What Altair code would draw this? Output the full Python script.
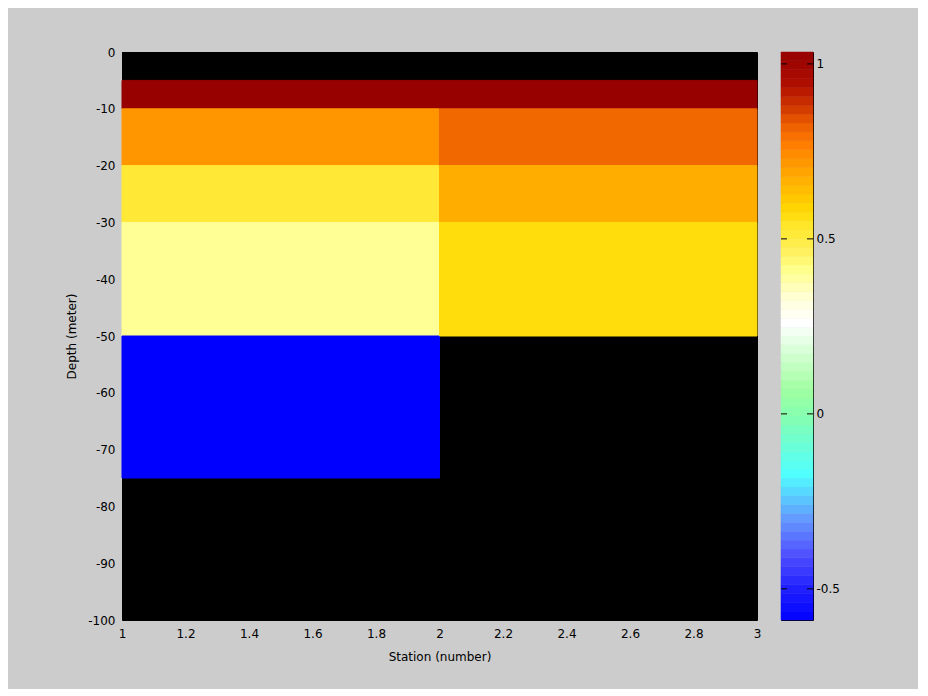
import altair as alt
import numpy as np
import pandas as pd

# ---- data ----
station_left = [1, 2]
station_right = [2, 3]
depth_top = [0, -5, -10, -20, -30, -50, -75]
depth_bottom = [-5, -10, -20, -30, -50, -75, -100]
values_station1 = [None, 1.03, 0.72, 0.52, 0.40, -0.59, None]
values_station2 = [None, 1.03, 0.81, 0.67, 0.57, None, None]

# colormap stops (value, colour)
cmap_values = [-0.589, -0.503, -0.403, -0.303, -0.174, -0.017, 0.069, 0.169, 0.263,
               0.326, 0.411, 0.469, 0.54, 0.583, 0.626, 0.711, 0.769, 0.826, 0.883,
               0.94, 1.034]
cmap_colors = ["#0000ff", "#1e1eff", "#5050ff", "#6496ff", "#50ffff", "#82ffb4",
               "#a0ffa0", "#d2ffd2", "#ffffff", "#ffffdc", "#ffff8c", "#fff05a",
               "#ffe628", "#ffd700", "#ffc300", "#ff9b00", "#ff7d00", "#eb5f00",
               "#cd3200", "#af0f00", "#960000"]
x_ticks = [1, 1.2, 1.4, 1.6, 1.8, 2, 2.2, 2.4, 2.6, 2.8, 3]
y_ticks = [0, -10, -20, -30, -40, -50, -60, -70, -80, -90, -100]
cbar_ticks = [-0.5, 0, 0.5, 1]
n_levels = 64

rows = []
for vals, xl, xr in [(values_station1, station_left[0], station_right[0]),
                     (values_station2, station_left[1], station_right[1])]:
    for v, t, b in zip(vals, depth_top, depth_bottom):
        if v is not None:
            rows.append({"x": xl, "x2": xr, "y": t, "y2": b, "value": v})
cells_df = pd.DataFrame(rows)

bg_df = pd.DataFrame({"x": [min(station_left)], "x2": [max(station_right)],
                      "y": [max(depth_top)], "y2": [min(depth_bottom)]})

lo, hi = cmap_values[0], cmap_values[-1]
edges = np.linspace(lo, hi, n_levels + 1)
cbar_df = pd.DataFrame({"y": edges[:-1], "y2": edges[1:],
                        "c": (edges[:-1] + edges[1:]) / 2})
tick_df = pd.DataFrame({"t": cbar_ticks})

FONT = "DejaVu Sans"
W, H = 635, 568
CW = 32

cscale = alt.Scale(domain=cmap_values, range=cmap_colors, interpolate="rgb")
xscale = alt.Scale(domain=[1, 3], nice=False, zero=False)
yscale = alt.Scale(domain=[-100, 0], nice=False, zero=False)

xaxis = alt.Axis(title="Station (number)", values=x_ticks,
                 labelExpr="toString(datum.value)", ticks=False, domain=False, grid=False,
                 labelPadding=8, titlePadding=12, labelFlush=False)
yaxis = alt.Axis(title="Depth (meter)", values=y_ticks, ticks=False,
                 labelExpr="toString(datum.value)",
                 domain=False, grid=False, labelPadding=7, titlePadding=9)

bg = alt.Chart(bg_df).mark_rect(color="black").encode(
    x=alt.X("x:Q", scale=xscale, axis=xaxis),
    x2="x2:Q",
    y=alt.Y("y:Q", scale=yscale, axis=yaxis),
    y2="y2:Q",
)
cells = alt.Chart(cells_df).mark_rect(strokeWidth=1).encode(
    x=alt.X("x:Q", scale=xscale),
    x2="x2:Q",
    y=alt.Y("y:Q", scale=yscale),
    y2="y2:Q",
    color=alt.Color("value:Q", scale=cscale, legend=None),
    stroke=alt.Stroke("value:Q", scale=cscale, legend=None),
)
main = alt.layer(bg, cells).properties(width=W, height=H)

cyscale = alt.Scale(domain=[lo, hi], nice=False, zero=False)
cbar = alt.Chart(cbar_df).mark_rect(strokeWidth=0.5).encode(
    x=alt.value(0), x2=alt.value(CW),
    y=alt.Y("y:Q", scale=cyscale,
            axis=alt.Axis(orient="right", title=None, values=cbar_ticks, ticks=False,
                          domain=False, grid=False, labelPadding=3,
                          labelExpr="toString(datum.value)")),
    y2="y2:Q",
    color=alt.Color("c:Q", scale=cscale, legend=None),
    stroke=alt.Stroke("c:Q", scale=cscale, legend=None),
)
tl = alt.Chart(tick_df).mark_rule(color="black", strokeWidth=1).encode(
    y=alt.Y("t:Q", scale=cyscale), x=alt.value(0), x2=alt.value(6))
tr = alt.Chart(tick_df).mark_rule(color="black", strokeWidth=1).encode(
    y=alt.Y("t:Q", scale=cyscale), x=alt.value(CW - 6), x2=alt.value(CW))
colorbar = alt.layer(cbar, tl, tr).properties(width=CW, height=H)

chart = alt.hconcat(main, colorbar, spacing=18).resolve_scale(
    color="shared"
).properties(
    padding={"left": 57, "top": 37, "right": 78, "bottom": 26},
    background="#cccccc",
).configure_view(
    stroke="black", strokeWidth=1
).configure_axis(
    labelFont=FONT, titleFont=FONT, labelFontSize=12, titleFontSize=12,
    labelColor="black", titleColor="black", titleFontWeight="normal",
)

chart.save("out.html", embed_options={"renderer": "svg", "actions": False})
